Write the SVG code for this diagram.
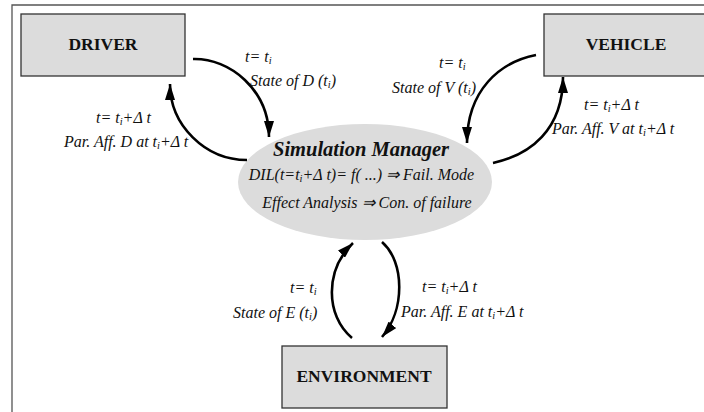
<svg xmlns="http://www.w3.org/2000/svg" width="704" height="412" viewBox="0 0 704 412">
<defs>
<marker id="ah" markerUnits="userSpaceOnUse" viewBox="0 0 16 10" refX="16" refY="5" markerWidth="16" markerHeight="10" orient="auto">
<path d="M0,0 L16,5 L0,10 z" fill="#000"/>
</marker>
</defs>
<style>
.frame{fill:none;stroke:#555;stroke-width:1.3}
.box{fill:#dcdcdc;stroke:#333;stroke-width:1.3}
.bl{font-family:"Liberation Serif",serif;font-weight:bold;font-size:17.5px;text-anchor:middle;fill:#111}
.lb{font-family:"Liberation Serif",serif;font-style:italic;font-size:16px;fill:#111}
.sm{font-family:"Liberation Serif",serif;font-style:italic;font-weight:bold;font-size:20.5px;text-anchor:middle;fill:#111}
.em{font-family:"Liberation Serif",serif;font-style:italic;font-size:16px;text-anchor:middle;fill:#111}
.sub{font-size:10.5px}
.arr{fill:none;stroke:#000;stroke-width:2.6;marker-end:url(#ah)}
</style>
<rect width="704" height="412" fill="#fff"/>
<path class="frame" d="M12,412 V5 H704"/>

<g id="driver">
<rect class="box" x="21" y="14" width="164" height="62"/>
<text class="bl" x="103" y="50">DRIVER</text>
</g>
<g id="vehicle">
<rect class="box" x="544" y="14" width="162" height="62"/>
<text class="bl" x="626" y="50">VEHICLE</text>
</g>
<g id="environment">
<rect class="box" x="282" y="346" width="165" height="62"/>
<text class="bl" x="364" y="382">ENVIRONMENT</text>
</g>
<g id="simulation-manager">
<ellipse cx="365" cy="182" rx="127" ry="58" fill="#dcdcdc"/>
<text class="sm" x="361" y="156">Simulation Manager</text>
<text class="em" x="361.5" y="180">DIL(t=t<tspan class="sub" dy="2">i</tspan><tspan dy="-2">+Δ t)= f( ...) ⇒ Fail. Mode</tspan></text>
<text class="em" x="367" y="208">Effect Analysis ⇒ Con. of failure</text>
</g>

<g id="connectors">
<path class="arr" d="M193,59 C230,58 269,90 269,137"/>
<path class="arr" d="M247,160 C205,160 170,125 170,84"/>
<path class="arr" d="M536,55 C500,62 467,90 467,143"/>
<path class="arr" d="M493,163 C530,155 563,130 563,77"/>
<path class="arr" d="M352,338 C325,315 325,270 353,243"/>
<path class="arr" d="M382,242 C405,262 405,310 382,337"/>
</g>

<g id="labels">
<text class="lb" x="245" y="62">t= t<tspan class="sub" dy="2">i</tspan></text>
<text class="lb" x="250" y="86">State of D (t<tspan class="sub" dy="2">i</tspan><tspan dy="-2">)</tspan></text>
<text class="lb" x="96" y="123">t= t<tspan class="sub" dy="2">i</tspan><tspan dy="-2">+Δ t</tspan></text>
<text class="lb" x="64" y="147">Par. Aff. D at t<tspan class="sub" dy="2">i</tspan><tspan dy="-2">+Δ t</tspan></text>
<text class="lb" x="439" y="68">t= t<tspan class="sub" dy="2">i</tspan></text>
<text class="lb" x="392" y="93">State of V (t<tspan class="sub" dy="2">i</tspan><tspan dy="-2">)</tspan></text>
<text class="lb" x="584" y="110">t= t<tspan class="sub" dy="2">i</tspan><tspan dy="-2">+Δ t</tspan></text>
<text class="lb" x="552" y="134">Par. Aff. V at t<tspan class="sub" dy="2">i</tspan><tspan dy="-2">+Δ t</tspan></text>
<text class="lb" x="290" y="293">t= t<tspan class="sub" dy="2">i</tspan></text>
<text class="lb" x="233" y="318">State of E (t<tspan class="sub" dy="2">i</tspan><tspan dy="-2">)</tspan></text>
<text class="lb" x="422" y="292">t= t<tspan class="sub" dy="2">i</tspan><tspan dy="-2">+Δ t</tspan></text>
<text class="lb" x="401" y="317">Par. Aff. E at t<tspan class="sub" dy="2">i</tspan><tspan dy="-2">+Δ t</tspan></text>
</g>
</svg>
